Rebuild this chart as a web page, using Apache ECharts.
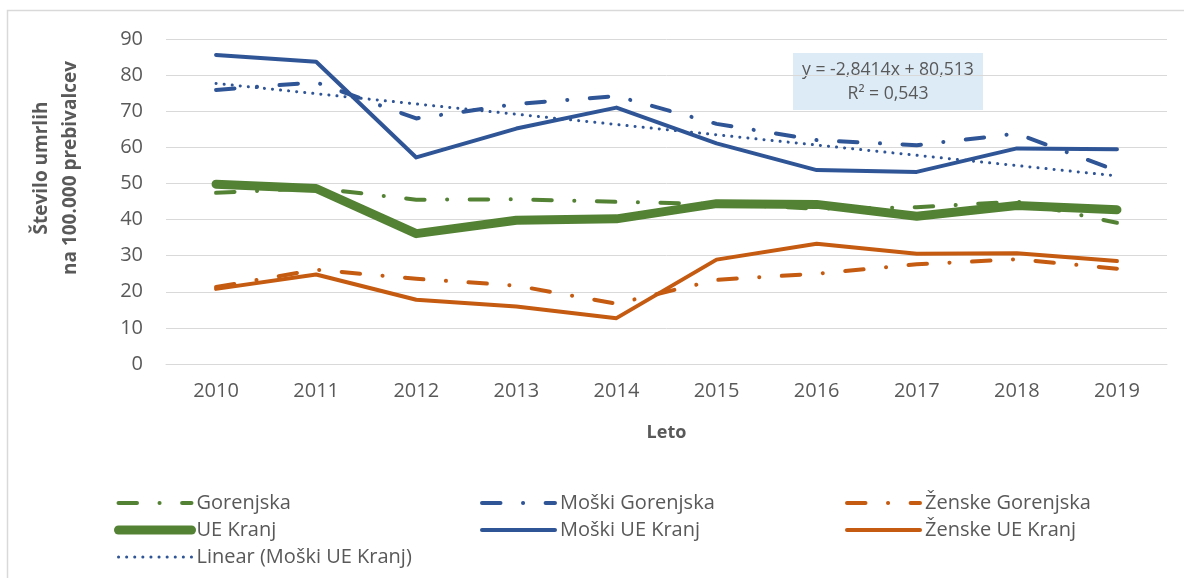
<!DOCTYPE html>
<html>
<head>
<meta charset="utf-8">
<title>Umrli na 100.000 prebivalcev</title>
<script src="https://cdn.jsdelivr.net/npm/echarts@6/dist/echarts.min.js"></script>
<style>
  html, body { margin: 0; padding: 0; background: #fff; }
  #chart { width: 1184px; height: 578px; }
</style>
</head>
<body>
<div id="chart"></div>
<script>
// podatki, odčitani s slike
var years = ['2010', '2011', '2012', '2013', '2014', '2015', '2016', '2017', '2018', '2019'];
var gorenjska       = [47.4, 48.7, 45.5, 45.6, 44.9, 44.3, 43.0, 43.4, 45.0, 39.1];
var moskiGorenjska  = [75.9, 78.0, 68.0, 72.0, 74.2, 66.5, 62.0, 60.6, 63.8, 53.5];
var zenskeGorenjska = [21.3, 26.1, 23.6, 21.7, 16.7, 23.3, 25.0, 27.6, 29.0, 26.4];
var ueKranj         = [49.8, 48.6, 36.1, 39.8, 40.2, 44.4, 44.2, 40.9, 43.9, 42.7];
var moskiUeKranj    = [85.6, 83.7, 57.2, 65.2, 71.0, 61.1, 53.7, 53.2, 59.7, 59.5];
var zenskeUeKranj   = [20.8, 24.8, 17.8, 15.9, 12.7, 28.9, 33.3, 30.5, 30.7, 28.5];
// linearni trend (Moški UE Kranj) - samo krajni točki
var trendMoski      = [77.7, null, null, null, null, null, null, null, null, 52.1];
var yTicks = { min: 0, max: 90, interval: 10 };
var trendLabel = ['y = -2,8414x + 80,513', 'R\u00b2 = 0,543'];

var green = '#548235', blue = '#2F5597', orange = '#C55A11';
var txt = '#595959', gridCol = '#D9D9D9';
var font = '"Open Sans", sans-serif';
var dashDot = [18.5, 22.5, 0.1, 22.5];

function lineSeries(name, data, color, width, dash) {
    return {
        name: name,
        type: 'line',
        data: data,
        symbol: 'none',
        connectNulls: true,
        animation: false,
        lineStyle: { color: color, width: width, type: dash || 'solid', cap: 'round', join: 'round' },
        itemStyle: { color: color }
    };
}

function legendCol(left, names) {
    return {
        orient: 'vertical',
        left: left,
        top: 493,
        padding: 0,
        itemWidth: 73,
        itemHeight: 14,
        itemGap: 7,
        selectedMode: false,
        itemStyle: { opacity: 0 },
        lineStyle: { width: 'inherit' },
        textStyle: { color: txt, fontSize: 20, lineHeight: 20, fontFamily: font },
        data: names
    };
}

var myChart = echarts.init(document.getElementById('chart'));

var option = {
    backgroundColor: '#fff',
    textStyle: { fontFamily: font },
    grid: { left: 166, right: 17, top: 39, bottom: 214, outerBoundsMode: 'none' },
    xAxis: {
        type: 'category',
        data: years,
        boundaryGap: true,
        axisLine: { lineStyle: { color: gridCol } },
        axisTick: { show: false },
        axisLabel: { color: txt, fontSize: 20, margin: 17, fontFamily: font },
        name: 'Leto',
        nameLocation: 'middle',
        nameGap: 60,
        nameTextStyle: { color: txt, fontSize: 18, fontWeight: 'bold', fontFamily: font }
    },
    yAxis: {
        type: 'value',
        min: yTicks.min,
        max: yTicks.max,
        interval: yTicks.interval,
        axisLine: { show: false },
        axisTick: { show: false },
        axisLabel: { color: txt, fontSize: 20, margin: 23, fontFamily: font },
        splitLine: { lineStyle: { color: gridCol, width: 1 } }
    },
    legend: [
        legendCol(114, ['Gorenjska', 'UE Kranj', 'Linear (Moški UE Kranj)']),
        legendCol(480, ['Moški Gorenjska', 'Moški UE Kranj']),
        legendCol(845, ['Ženske Gorenjska', 'Ženske UE Kranj'])
    ],
    graphic: [
        {
            type: 'rect',
            silent: true,
            shape: { x: 7.5, y: 10.5, width: 1200, height: 600 },
            style: { fill: 'none', stroke: gridCol, lineWidth: 1.5 }
        },
        {
            type: 'text',
            x: 56,
            y: 168,
            rotation: Math.PI / 2,
            style: {
                text: 'Število umrlih\nna 100.000 prebivalcev',
                fill: txt,
                font: 'bold 19px "Open Sans", sans-serif',
                align: 'center',
                verticalAlign: 'middle',
                lineHeight: 29
            }
        },
        {
            type: 'group',
            left: 793,
            top: 53,
            children: [
                { type: 'rect', shape: { x: 0, y: 0, width: 190, height: 57 }, style: { fill: '#DDEBF7' } },
                { type: 'text', x: 95, y: 17, style: { text: trendLabel[0], fill: txt, font: '17.6px "Open Sans", sans-serif', align: 'center', verticalAlign: 'middle' } },
                { type: 'text', x: 95, y: 41, style: { text: trendLabel[1], fill: txt, font: '17.6px "Open Sans", sans-serif', align: 'center', verticalAlign: 'middle' } }
            ]
        }
    ],
    series: [
        lineSeries('Gorenjska', gorenjska, green, 4, dashDot),
        lineSeries('Moški Gorenjska', moskiGorenjska, blue, 4, dashDot),
        lineSeries('Ženske Gorenjska', zenskeGorenjska, orange, 4, dashDot),
        lineSeries('UE Kranj', ueKranj, green, 9),
        lineSeries('Moški UE Kranj', moskiUeKranj, blue, 4),
        lineSeries('Ženske UE Kranj', zenskeUeKranj, orange, 4),
        lineSeries('Linear (Moški UE Kranj)', trendMoski, blue, 3, [0.1, 8])
    ]
};

myChart.setOption(option);
</script>
</body>
</html>
